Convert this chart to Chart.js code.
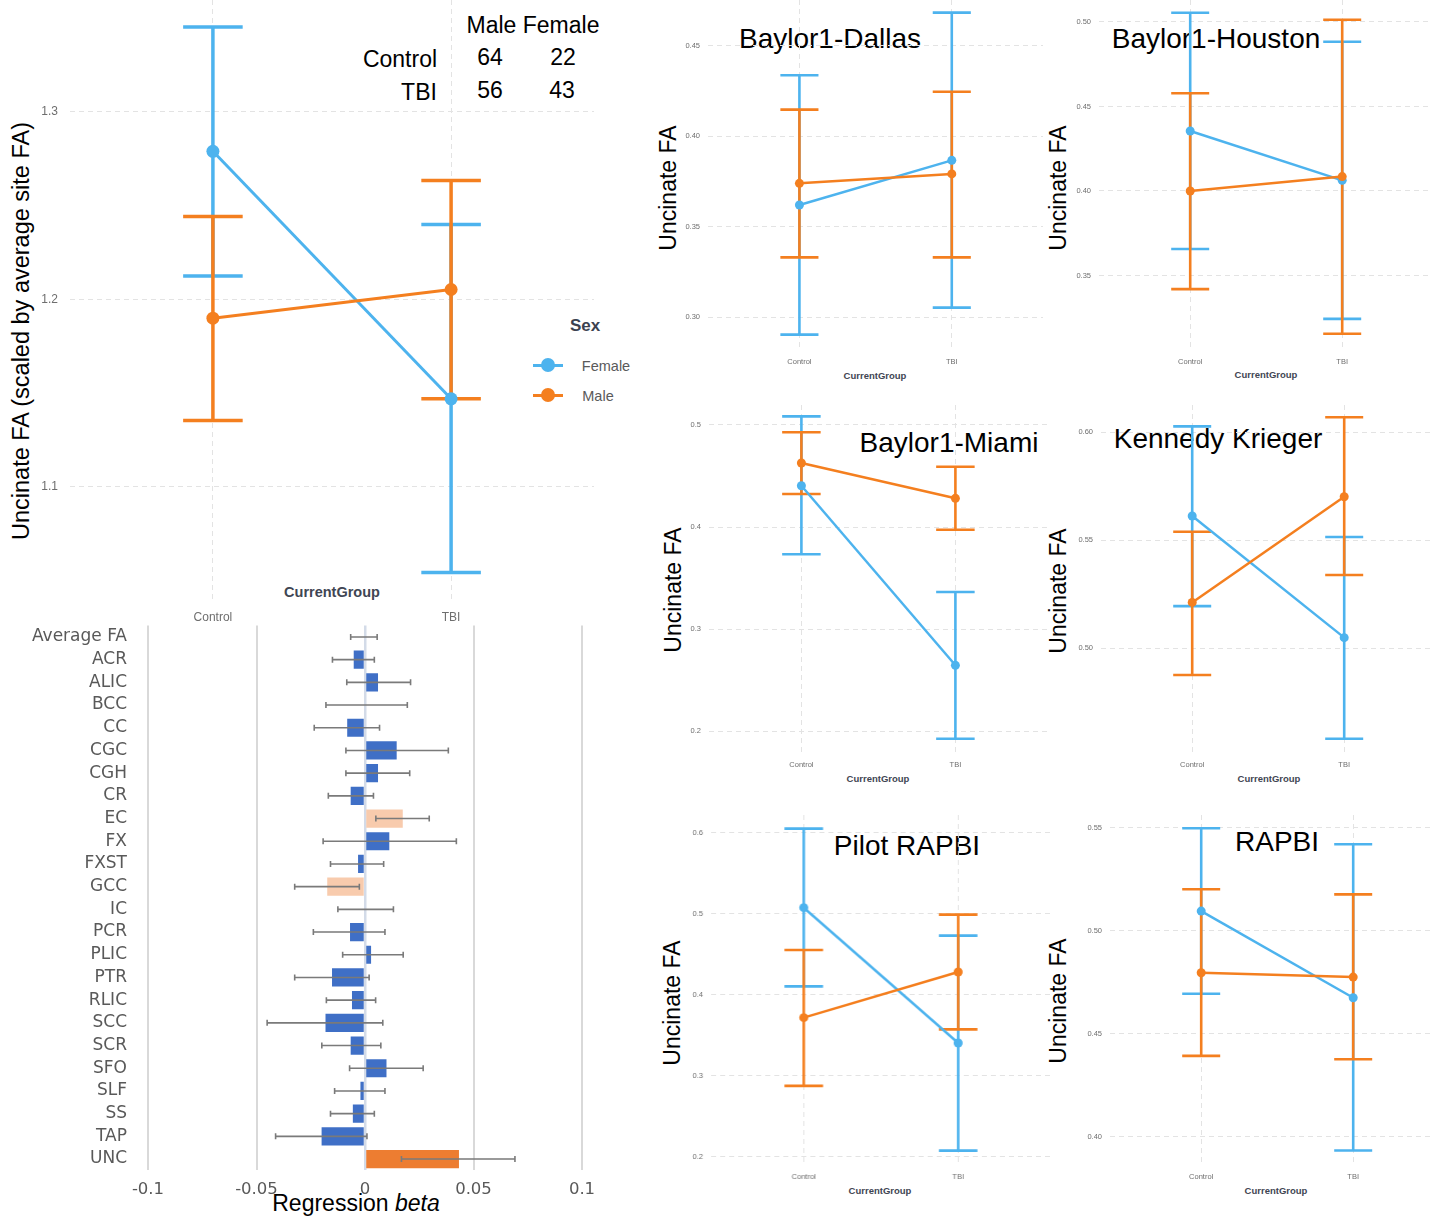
<!DOCTYPE html>
<html>
<head>
<meta charset="utf-8">
<script src="https://cdn.jsdelivr.net/npm/chart.js@4.4.1/dist/chart.umd.min.js"></script>
<style>
  body { margin: 0; width: 1432px; height: 1217px; background: #fff; position: relative; overflow: hidden;
         font-family: "Liberation Sans", Arial, sans-serif; }
  .box { position: absolute; }
  .t { position: absolute; white-space: nowrap; line-height: 1; transform: translate(-50%, -50%); }
  .rot { transform: translate(-50%, -50%) rotate(-90deg); }
  .dot { position: absolute; border-radius: 50%; }
  .bar { position: absolute; }
</style>
</head>
<body>

<!-- main panel texts -->
<div class="t" style="left:533px;top:25px;font-size:23px">Male Female</div>
<div class="t" style="left:400px;top:59px;font-size:23px">Control</div>
<div class="t" style="left:490px;top:57px;font-size:23px">64</div>
<div class="t" style="left:563px;top:57px;font-size:23px">22</div>
<div class="t" style="left:419px;top:92px;font-size:23px">TBI</div>
<div class="t" style="left:490px;top:90px;font-size:23px">56</div>
<div class="t" style="left:562px;top:90px;font-size:23px">43</div>
<div class="t rot" style="left:22px;top:331px;font-size:23.5px">Uncinate FA (scaled by average site FA)</div>
<div class="t" style="left:332px;top:592px;font-size:14.5px;font-weight:bold;color:#3f4653">CurrentGroup</div>

<div class="t" style="left:585px;top:325px;font-size:17px;font-weight:bold;color:#3b4250">Sex</div>
<div class="bar" style="left:533px;top:364px;width:30px;height:3px;background:#4db3ee"></div>
<div class="dot" style="left:541px;top:358px;width:14px;height:14px;background:#4db3ee"></div>
<div class="t" style="left:606px;top:366px;font-size:14.5px;color:#5a5a5a">Female</div>
<div class="bar" style="left:533px;top:394px;width:30px;height:3px;background:#f47f1f"></div>
<div class="dot" style="left:541px;top:388px;width:14px;height:14px;background:#f47f1f"></div>
<div class="t" style="left:598px;top:396px;font-size:14.5px;color:#5a5a5a">Male</div>

<!-- forest plot axis title -->
<div class="t" style="left:356px;top:1203px;font-size:23px">Regression <i>beta</i></div>

<!-- site panel texts -->
<div class="t" style="left:830px;top:39px;font-size:28px">Baylor1-Dallas</div>
<div class="t" style="left:1216px;top:39px;font-size:28px">Baylor1-Houston</div>
<div class="t" style="left:949px;top:443px;font-size:28px">Baylor1-Miami</div>
<div class="t" style="left:1218px;top:439px;font-size:28px">Kennedy Krieger</div>
<div class="t" style="left:907px;top:846px;font-size:28px">Pilot RAPBI</div>
<div class="t" style="left:1277px;top:842px;font-size:28px">RAPBI</div>

<div class="t rot" style="left:668px;top:188px;font-size:23px">Uncinate FA</div>
<div class="t rot" style="left:1058px;top:188px;font-size:23px">Uncinate FA</div>
<div class="t rot" style="left:673px;top:590px;font-size:23px">Uncinate FA</div>
<div class="t rot" style="left:1058px;top:591px;font-size:23px">Uncinate FA</div>
<div class="t rot" style="left:672px;top:1003px;font-size:23px">Uncinate FA</div>
<div class="t rot" style="left:1058px;top:1001px;font-size:23px">Uncinate FA</div>

<div class="t" style="left:875px;top:376px;font-size:9.5px;font-weight:bold;color:#3f4653">CurrentGroup</div>
<div class="t" style="left:1266px;top:375px;font-size:9.5px;font-weight:bold;color:#3f4653">CurrentGroup</div>
<div class="t" style="left:878px;top:779px;font-size:9.5px;font-weight:bold;color:#3f4653">CurrentGroup</div>
<div class="t" style="left:1269px;top:779px;font-size:9.5px;font-weight:bold;color:#3f4653">CurrentGroup</div>
<div class="t" style="left:880px;top:1191px;font-size:9.5px;font-weight:bold;color:#3f4653">CurrentGroup</div>
<div class="t" style="left:1276px;top:1191px;font-size:9.5px;font-weight:bold;color:#3f4653">CurrentGroup</div>

<script>
const groups = ['Control', 'TBI'];

// all sites, scaled by site average
const allFemale = [1.279, 1.147];
const allFemaleCI = [[1.2125, 1.3453], [1.0544, 1.240]];
const allMale = [1.190, 1.2053];
const allMaleCI = [[1.1355, 1.2443], [1.147, 1.2635]];
const allTicks = [1.1, 1.2, 1.3];

// per site
const dallasFemale = [0.362, 0.3867];
const dallasFemaleCI = [[0.2904, 0.4337], [0.3053, 0.4683]];
const dallasMale = [0.374, 0.3792];
const dallasMaleCI = [[0.3331, 0.4147], [0.3331, 0.4246]];
const dallasTicks = [0.30, 0.35, 0.40, 0.45];

const houstonFemale = [0.4355, 0.4063];
const houstonFemaleCI = [[0.3657, 0.5055], [0.3243, 0.4883]];
const houstonMale = [0.400, 0.4085];
const houstonMaleCI = [[0.3419, 0.4578], [0.3155, 0.5013]];
const houstonTicks = [0.35, 0.40, 0.45, 0.50];

const miamiFemale = [0.4404, 0.2647];
const miamiFemaleCI = [[0.3733, 0.5083], [0.1929, 0.3364]];
const miamiMale = [0.4626, 0.4281];
const miamiMaleCI = [[0.4323, 0.4927], [0.3974, 0.459]];
const miamiTicks = [0.2, 0.3, 0.4, 0.5];

const kennedyFemale = [0.5611, 0.5048];
const kennedyFemaleCI = [[0.5194, 0.6026], [0.458, 0.5514]];
const kennedyMale = [0.5211, 0.570];
const kennedyMaleCI = [[0.4875, 0.5538], [0.5338, 0.6068]];
const kennedyTicks = [0.50, 0.55, 0.60];

const pilotFemale = [0.5074, 0.3405];
const pilotFemaleCI = [[0.4104, 0.6049], [0.2078, 0.4729]];
const pilotMale = [0.3718, 0.4281];
const pilotMaleCI = [[0.2877, 0.4552], [0.3574, 0.4988]];
const pilotTicks = [0.2, 0.3, 0.4, 0.5, 0.6];

const rapbiFemale = [0.5095, 0.4675];
const rapbiFemaleCI = [[0.4694, 0.5497], [0.3934, 0.5419]];
const rapbiMale = [0.4796, 0.4775];
const rapbiMaleCI = [[0.4393, 0.5201], [0.4377, 0.5176]];
const rapbiTicks = [0.40, 0.45, 0.50, 0.55];

// regression betas by tract
const tracts = ['Average FA', 'ACR', 'ALIC', 'BCC', 'CC', 'CGC', 'CGH', 'CR', 'EC', 'FX', 'FXST', 'GCC',
  'IC', 'PCR', 'PLIC', 'PTR', 'RLIC', 'SCC', 'SCR', 'SFO', 'SLF', 'SS', 'TAP', 'UNC'];
const betas = [0, -0.0052, 0.006, 0, -0.0082, 0.0146, 0.006, -0.0066, 0.0174, 0.0112, -0.0032, -0.0174,
  0, -0.0069, 0.0028, -0.0152, -0.006, -0.0182, -0.0066, 0.0099, -0.0021, -0.0056, -0.020, 0.0433];
const betaLow = [-0.0066, -0.015, -0.0084, -0.018, -0.0234, -0.0088, -0.0088, -0.0169, 0.005, -0.0193, -0.0159, -0.0324,
  -0.0125, -0.0238, -0.0103, -0.0324, -0.0178, -0.0451, -0.0199, -0.0071, -0.014, -0.0159, -0.0412, 0.0168];
const betaHigh = [0.0056, 0.0043, 0.021, 0.0195, 0.0067, 0.0384, 0.0206, 0.0039, 0.0296, 0.0421, 0.0086, -0.0026,
  0.0131, 0.0092, 0.0176, 0.0019, 0.0049, 0.0082, 0.0073, 0.0268, 0.0092, 0.0043, 0.0009, 0.0691];
const betaTicks = [-0.1, -0.05, 0, 0.05, 0.1];
const markedTracts = ['EC', 'GCC'];
const focusTract = 'UNC';

const FEMALE = '#4db3ee';
const MALE = '#f47f1f';
const FONT = '"Liberation Sans", Arial, sans-serif';

function drawErrors(chart, opts) {
  const ctx = chart.ctx;
  const x = chart.scales.x, y = chart.scales.y;
  const horizontal = chart.options.indexAxis === 'y';
  ctx.save();
  ctx.lineWidth = opts.width;
  const sets = chart.data.datasets.slice().sort((a, b) => (b.order || 0) - (a.order || 0));
  sets.forEach(ds => {
    if (!ds.errors) return;
    ctx.strokeStyle = opts.color || ds.borderColor;
    ds.errors.forEach(([lo, hi], i) => {
      ctx.beginPath();
      if (horizontal) {
        const py = y.getPixelForValue(i);
        const a = x.getPixelForValue(lo), b = x.getPixelForValue(hi);
        ctx.moveTo(a, py); ctx.lineTo(b, py);
        ctx.moveTo(a, py - opts.cap); ctx.lineTo(a, py + opts.cap);
        ctx.moveTo(b, py - opts.cap); ctx.lineTo(b, py + opts.cap);
      } else {
        const xv = ds.data[i].x;
        const px = x.getPixelForValue(xv);
        const a = x.getPixelForValue(xv - opts.cap), b = x.getPixelForValue(xv + opts.cap);
        const p1 = y.getPixelForValue(lo), p2 = y.getPixelForValue(hi);
        ctx.moveTo(px, p1); ctx.lineTo(px, p2);
        ctx.moveTo(a, p1); ctx.lineTo(b, p1);
        ctx.moveTo(a, p2); ctx.lineTo(b, p2);
      }
      ctx.stroke();
    });
  });
  ctx.restore();
}

const errorBars = {
  id: 'errorBars',
  beforeDatasetsDraw(chart, args, opts) { if (!opts.front) drawErrors(chart, opts); },
  afterDatasetsDraw(chart, args, opts) { if (opts.front) drawErrors(chart, opts); }
};

function makeCanvas(box) {
  const div = document.createElement('div');
  div.className = 'box';
  div.style.left = box.left + 'px';
  div.style.top = box.top + 'px';
  div.style.width = box.width + 'px';
  div.style.height = box.height + 'px';
  const c = document.createElement('canvas');
  div.appendChild(c);
  document.body.appendChild(div);
  return c;
}

function groupChart(box, female, femaleCI, male, maleCI, yTicks, look) {
  const series = [
    { name: 'Female', means: female, ci: femaleCI, color: FEMALE, order: 2 },
    { name: 'Male', means: male, ci: maleCI, color: MALE, order: 1 }
  ];
  return new Chart(makeCanvas(box), {
    type: 'line',
    data: {
      datasets: series.map(s => ({
        label: s.name,
        data: s.means.map((v, i) => ({ x: i + 1, y: v })),
        errors: s.ci,
        borderColor: s.color,
        backgroundColor: s.color,
        pointBackgroundColor: s.color,
        pointBorderWidth: 0,
        pointRadius: look.point,
        borderWidth: look.line,
        order: s.order
      }))
    },
    options: {
      animation: false,
      responsive: true,
      maintainAspectRatio: false,
      layout: { padding: 0, autoPadding: false },
      plugins: {
        legend: { display: false },
        tooltip: { enabled: false },
        errorBars: { cap: 0.125, width: look.err, front: false }
      },
      scales: {
        x: {
          type: 'linear', min: 0.4, max: 2.6,
          afterBuildTicks: s => { s.ticks = groups.map((g, i) => ({ value: i + 1 })); },
          afterFit: s => { s.height = look.xAxisH; s.paddingLeft = 0; s.paddingRight = 0; },
          ticks: { autoSkip: false, maxRotation: 0, padding: look.xPad, color: '#6e6e6e',
                   font: { family: FONT, size: look.tick }, callback: v => groups[v - 1] },
          grid: { color: '#e3e3e3', lineWidth: 1, drawTicks: false },
          border: { display: false, dash: [5, 4] }
        },
        y: {
          min: look.min, max: look.max,
          afterBuildTicks: s => { s.ticks = yTicks.map(v => ({ value: v })); },
          afterFit: s => { s.width = look.yAxisW; s.paddingTop = 0; s.paddingBottom = 0; },
          ticks: { padding: look.yPad, color: '#6e6e6e', font: { family: FONT, size: look.tick },
                   callback: v => v.toFixed(look.dec) },
          grid: { color: '#e3e3e3', lineWidth: 1, drawTicks: false },
          border: { display: false, dash: [5, 4] }
        }
      }
    },
    plugins: [errorBars]
  });
}

const small = { point: 4.5, line: 2.5, err: 2.6, tick: 7.5, xAxisH: 22, xPad: 7, yAxisW: 40, yPad: 8 };

groupChart({ left: 0, top: 0, width: 594, height: 630 }, allFemale, allFemaleCI, allMale, allMaleCI, allTicks,
  { point: 6.5, line: 3, err: 3.5, tick: 12, xAxisH: 30, xPad: 10, yAxisW: 70, yPad: 12, dec: 1, min: 1.0397, max: 1.3597 });

groupChart({ left: 667.9, top: 0, width: 375.2, height: 372 }, dallasFemale, dallasFemaleCI, dallasMale, dallasMaleCI,
  dallasTicks, Object.assign({}, small, { dec: 2, min: 0.2819, max: 0.4753 }));
groupChart({ left: 1058.8, top: 0, width: 374.4, height: 372 }, houstonFemale, houstonFemaleCI, houstonMale, houstonMaleCI,
  houstonTicks, Object.assign({}, small, { dec: 2, min: 0.3059, max: 0.513 }));
groupChart({ left: 668.6, top: 405, width: 378.8, height: 370 }, miamiFemale, miamiFemaleCI, miamiMale, miamiMaleCI,
  miamiTicks, Object.assign({}, small, { dec: 1, min: 0.1789, max: 0.5194 }));
groupChart({ left: 1060.8, top: 405, width: 374.4, height: 370 }, kennedyFemale, kennedyFemaleCI, kennedyMale, kennedyMaleCI,
  kennedyTicks, Object.assign({}, small, { dec: 2, min: 0.4514, max: 0.6125 }));
groupChart({ left: 670.9, top: 815, width: 378.8, height: 372 }, pilotFemale, pilotFemaleCI, pilotMale, pilotMaleCI,
  pilotTicks, Object.assign({}, small, { dec: 1, min: 0.1901, max: 0.6217 }));
groupChart({ left: 1069.8, top: 815, width: 374.4, height: 372 }, rapbiFemale, rapbiFemaleCI, rapbiMale, rapbiMaleCI,
  rapbiTicks, Object.assign({}, small, { dec: 2, min: 0.3864, max: 0.5561 }));

// forest plot of betas
const barColors = tracts.map(t => t === focusTract ? '#ed7d31' : markedTracts.includes(t) ? '#f8cbad' : '#3f6fc6');
new Chart(makeCanvas({ left: 0, top: 622, width: 600, height: 588.4 }), {
  type: 'bar',
  data: {
    labels: tracts,
    datasets: [{
      data: betas,
      errors: betaLow.map((v, i) => [v, betaHigh[i]]),
      backgroundColor: barColors,
      borderWidth: 0,
      barPercentage: 0.8,
      categoryPercentage: 1
    }]
  },
  options: {
    indexAxis: 'y',
    animation: false,
    responsive: true,
    maintainAspectRatio: false,
    layout: { padding: { top: 3.6, right: 18, left: 0, bottom: 0 }, autoPadding: false },
    plugins: {
      legend: { display: false },
      tooltip: { enabled: false },
      errorBars: { cap: 3, width: 1.6, color: '#7a7a7a', front: true }
    },
    scales: {
      x: {
        min: -0.1, max: 0.1,
        afterBuildTicks: s => { s.ticks = betaTicks.map(v => ({ value: v })); },
        afterFit: s => { s.height = 40; s.paddingLeft = 0; s.paddingRight = 0; },
        ticks: { autoSkip: false, maxRotation: 0, padding: 9, color: '#595959',
                 font: { family: '"DejaVu Sans", sans-serif', size: 16.5 }, callback: v => String(v) },
        grid: { drawTicks: false,
                color: c => c.tick && c.tick.value === 0 ? '#d3dbe8' : '#d9d9d9',
                lineWidth: c => c.tick && c.tick.value === 0 ? 2.5 : 2 },
        border: { display: false }
      },
      y: {
        afterFit: s => { s.width = 148; s.paddingTop = 0; s.paddingBottom = 0; },
        ticks: { autoSkip: false, padding: 21, color: '#595959',
                 font: { family: '"DejaVu Sans", sans-serif', size: 17 } },
        grid: { display: false, drawTicks: false },
        border: { display: false }
      }
    }
  },
  plugins: [errorBars]
});
</script>
</body>
</html>
